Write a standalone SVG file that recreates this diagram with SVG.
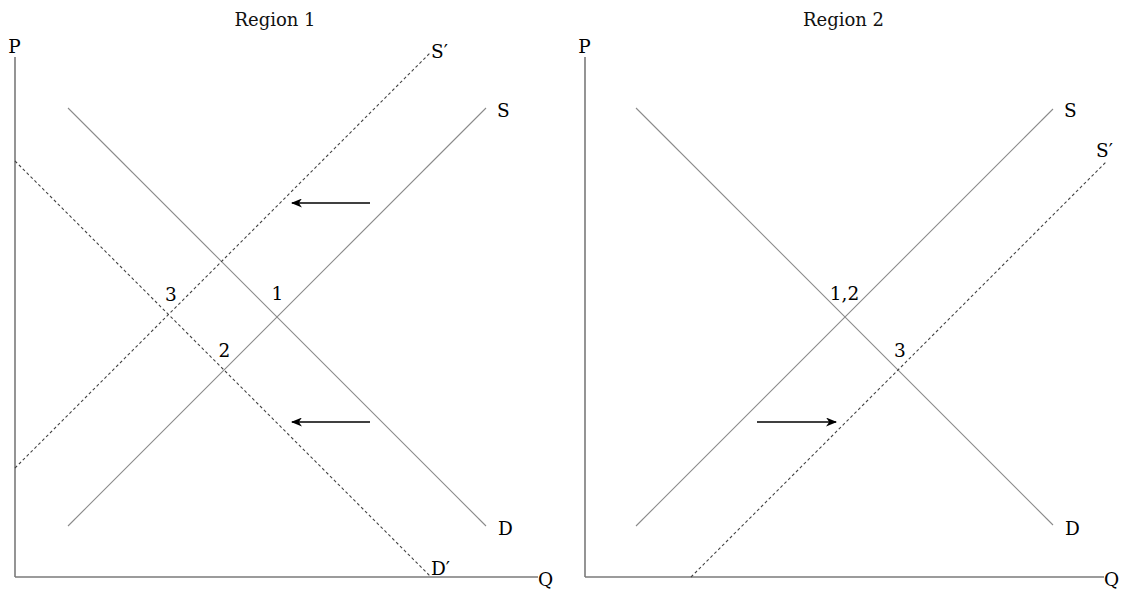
<svg xmlns="http://www.w3.org/2000/svg" width="1124" height="592" viewBox="0 0 1124 592">
<defs>
<style>
.t{font-family:"DejaVu Serif","Liberation Serif",serif;font-size:18.5px;fill:#000}
.ttl{font-family:"DejaVu Serif","Liberation Serif",serif;font-size:18px;fill:#111}
.ax{stroke:#7a7a7a;stroke-width:1.6;fill:none}
.ln{stroke:#8a8a8a;stroke-width:1.1;fill:none}
.ds{stroke:#444;stroke-width:1.1;stroke-dasharray:3 2.5;fill:none}
.ar{stroke:#000;stroke-width:1.4;fill:none}
</style>
<marker id="ah" viewBox="0 0 11 9" refX="10" refY="4.5" markerWidth="11" markerHeight="9" markerUnits="userSpaceOnUse" orient="auto">
<path d="M0,0 L11,4.5 L0,9 L3.2,4.5 Z" fill="#000"/>
</marker>
</defs>
<rect width="1124" height="592" fill="#fff"/>

<g id="region1">
<text class="ttl" x="275" y="26" text-anchor="middle">Region 1</text>
<g id="axes1">
<line class="ax" x1="15" y1="57" x2="15" y2="577"/>
<line class="ax" x1="15" y1="577" x2="538" y2="577"/>
<text class="t" x="14.5" y="53" text-anchor="middle">P</text>
<text class="t" x="538" y="586">Q</text>
</g>
<g id="D1"><line class="ln" x1="68" y1="108" x2="486" y2="526"/><text class="t" x="498" y="535">D</text></g>
<g id="S1"><line class="ln" x1="68" y1="526" x2="486" y2="108"/><text class="t" x="497" y="117">S</text></g>
<g id="Sp1"><line class="ds" x1="15" y1="468" x2="431" y2="52"/><text class="t" x="431" y="58">S′</text></g>
<g id="Dp1"><line class="ds" x1="15" y1="161" x2="431" y2="577"/><text class="t" x="431" y="575">D′</text></g>
<g id="pt1"><text class="t" x="277.5" y="300" text-anchor="middle">1</text></g>
<g id="pt2"><text class="t" x="224.5" y="357" text-anchor="middle">2</text></g>
<g id="pt3"><text class="t" x="171" y="301" text-anchor="middle">3</text></g>
</g>

<g id="region2">
<text class="ttl" x="843.5" y="26" text-anchor="middle">Region 2</text>
<g id="axes2">
<line class="ax" x1="585" y1="57" x2="585" y2="577"/>
<line class="ax" x1="585" y1="577" x2="1104" y2="577"/>
<text class="t" x="584.5" y="53" text-anchor="middle">P</text>
<text class="t" x="1104" y="586">Q</text>
</g>
<g id="D2"><line class="ln" x1="636" y1="108" x2="1053" y2="525"/><text class="t" x="1065" y="535">D</text></g>
<g id="S2"><line class="ln" x1="636" y1="526" x2="1053" y2="109"/><text class="t" x="1064" y="117">S</text></g>
<g id="Sp2"><line class="ds" x1="691" y1="577" x2="1107" y2="161"/><text class="t" x="1096" y="157">S′</text></g>
<g id="pt12"><text class="t" x="844.5" y="300" text-anchor="middle">1,2</text></g>
<g id="pt3b"><text class="t" x="900" y="357" text-anchor="middle">3</text></g>
</g>

<g id="connectors">
<line class="ar" x1="370" y1="203" x2="292" y2="203" marker-end="url(#ah)"/>
<line class="ar" x1="370" y1="422" x2="292" y2="422" marker-end="url(#ah)"/>
<line class="ar" x1="757" y1="422" x2="836" y2="422" marker-end="url(#ah)"/>
</g>
</svg>
